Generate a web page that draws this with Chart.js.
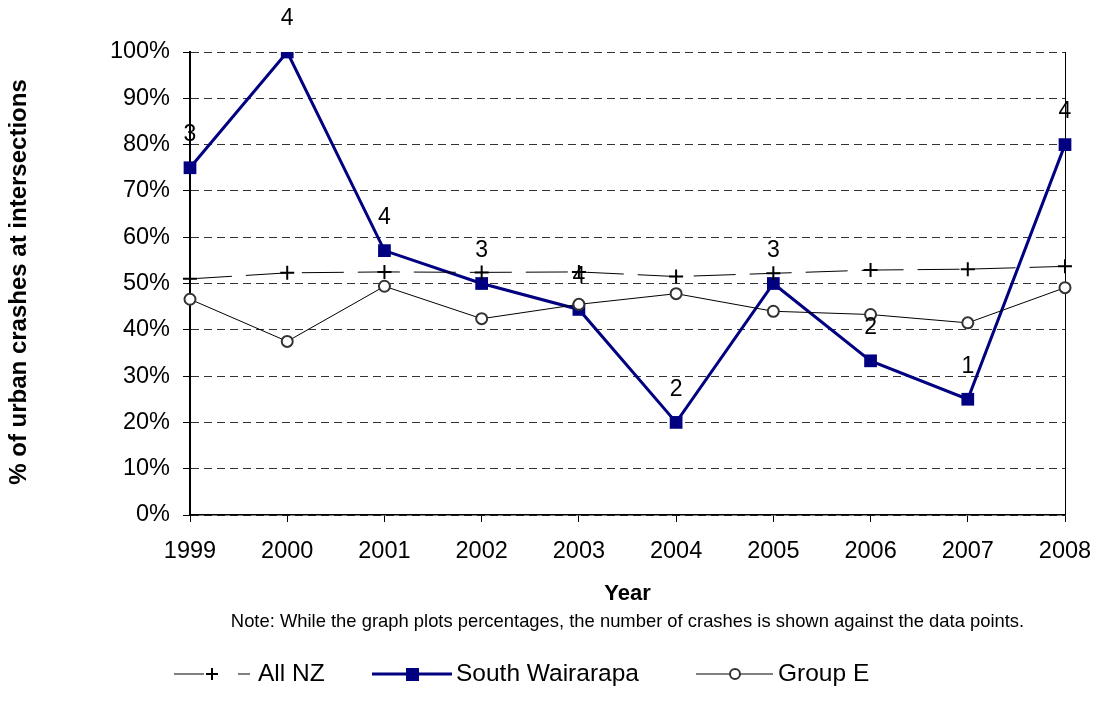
<!DOCTYPE html>
<html>
<head>
<meta charset="utf-8">
<script src="https://cdn.jsdelivr.net/npm/chart.js@4/dist/chart.umd.min.js"></script>
<style>
  html, body { margin: 0; padding: 0; background: #fff; }
  #wrap { width: 1095px; height: 709px; }
</style>
</head>
<body>
<div id="wrap"><canvas id="chart" width="1095" height="709"></canvas></div>
<script>
// data
const years = ['1999', '2000', '2001', '2002', '2003', '2004', '2005', '2006', '2007', '2008'];
const allNz = [51.0, 52.3, 52.5, 52.4, 52.5, 51.5, 52.2, 52.9, 53.1, 53.7];
const southWairarapa = [75, 100, 57.1, 50, 44.4, 20, 50, 33.3, 25, 80];
const groupE = [46.6, 37.5, 49.4, 42.4, 45.5, 47.8, 44.0, 43.3, 41.5, 49.1];
const crashCounts = [3, 4, 4, 3, 4, 2, 3, 2, 1, 4];

const yTitle = '% of urban crashes at intersections';
const xTitle = 'Year';
const note = 'Note: While the graph plots percentages, the number of crashes is shown against the data points.';

const FONT = '"Liberation Sans", Arial, sans-serif';
const NAVY = '#000080';

// right-hand frame line of the plot area
const frame = {
  id: 'frame',
  beforeDatasetsDraw(chart) {
    const ctx = chart.ctx;
    const a = chart.chartArea;
    ctx.save();
    ctx.strokeStyle = '#000';
    ctx.lineWidth = 1;
    ctx.beginPath();
    ctx.moveTo(a.right + 0.5, a.top);
    ctx.lineTo(a.right + 0.5, a.bottom);
    ctx.stroke();
    ctx.restore();
  }
};

// numbers of crashes above the South Wairarapa points
const countLabels = {
  id: 'countLabels',
  afterDatasetsDraw(chart) {
    const ctx = chart.ctx;
    const meta = chart.getDatasetMeta(1);
    ctx.save();
    ctx.font = '23px ' + FONT;
    ctx.fillStyle = '#000';
    ctx.textAlign = 'center';
    ctx.textBaseline = 'middle';
    meta.data.forEach((pt, i) => {
      ctx.fillText(String(crashCounts[i]), pt.x, pt.y - 33);
    });
    ctx.restore();
  }
};

// axis titles, note and the legend at the bottom
const extras = {
  id: 'extras',
  afterDraw(chart) {
    const ctx = chart.ctx;
    const area = chart.chartArea;
    ctx.save();
    ctx.fillStyle = '#000';
    ctx.textAlign = 'center';
    ctx.textBaseline = 'middle';

    ctx.save();
    ctx.translate(19, 282);
    ctx.rotate(-Math.PI / 2);
    ctx.font = 'bold 24px ' + FONT;
    ctx.fillText(yTitle, 0, 0);
    ctx.restore();

    const cx = (area.left + area.right) / 2;
    ctx.font = 'bold 22px ' + FONT;
    ctx.fillText(xTitle, cx, 594);
    ctx.font = '18.4px ' + FONT;
    ctx.fillText(note, cx, 622);

    // legend
    const ly = 674;
    ctx.textAlign = 'left';
    ctx.font = '24.5px ' + FONT;

    // All NZ
    ctx.strokeStyle = '#000';
    ctx.lineWidth = 1;
    ctx.beginPath();
    ctx.moveTo(174, ly); ctx.lineTo(204, ly);
    ctx.moveTo(238, ly); ctx.lineTo(250, ly);
    ctx.stroke();
    ctx.lineWidth = 2;
    ctx.beginPath();
    ctx.moveTo(206, ly); ctx.lineTo(218, ly);
    ctx.moveTo(212, ly - 6); ctx.lineTo(212, ly + 6);
    ctx.stroke();
    ctx.fillText('All NZ', 258, ly);

    // South Wairarapa
    ctx.strokeStyle = NAVY;
    ctx.lineWidth = 3;
    ctx.beginPath();
    ctx.moveTo(372, ly); ctx.lineTo(452, ly);
    ctx.stroke();
    ctx.fillStyle = NAVY;
    ctx.fillRect(406, ly - 6, 13, 13);
    ctx.fillStyle = '#000';
    ctx.fillText('South Wairarapa', 456, ly);

    // Group E
    ctx.strokeStyle = '#000';
    ctx.lineWidth = 1;
    ctx.beginPath();
    ctx.moveTo(696, ly); ctx.lineTo(773, ly);
    ctx.stroke();
    ctx.beginPath();
    ctx.arc(735, ly, 5, 0, Math.PI * 2);
    ctx.fillStyle = '#fff';
    ctx.fill();
    ctx.strokeStyle = '#333';
    ctx.lineWidth = 2;
    ctx.stroke();
    ctx.fillStyle = '#000';
    ctx.fillText('Group E', 778, ly);

    ctx.restore();
  }
};

new Chart(document.getElementById('chart'), {
  type: 'line',
  data: {
    labels: years,
    datasets: [
      {
        label: 'All NZ',
        data: allNz,
        borderColor: '#000',
        borderWidth: 1,
        borderDash: [42, 14],
        pointStyle: 'cross',
        pointRadius: 7,
        pointBorderWidth: 2,
        pointBorderColor: '#000',
        tension: 0,
        order: 0
      },
      {
        label: 'South Wairarapa',
        data: southWairarapa,
        borderColor: NAVY,
        borderWidth: 3,
        pointStyle: 'rect',
        pointRadius: 9,
        pointBorderWidth: 0,
        pointBackgroundColor: NAVY,
        tension: 0,
        order: 2
      },
      {
        label: 'Group E',
        data: groupE,
        borderColor: '#000',
        borderWidth: 1,
        pointStyle: 'circle',
        pointRadius: 5.5,
        pointBorderWidth: 2,
        pointBorderColor: '#333',
        pointBackgroundColor: '#fff',
        tension: 0,
        order: 1
      }
    ]
  },
  options: {
    responsive: false,
    animation: false,
    layout: { padding: { left: 0, right: 30, top: 52, bottom: 0 } },
    plugins: {
      legend: { display: false },
      tooltip: { enabled: false }
    },
    scales: {
      x: {
        type: 'category',
        offset: false,
        grid: { drawOnChartArea: false, drawTicks: true, tickLength: 7, color: '#000' },
        border: { display: true, color: '#000', width: 1.5 },
        ticks: { color: '#000', font: { family: FONT, size: 23.5 }, padding: 15, maxRotation: 0, autoSkip: false },
        afterFit: function(scale) {
          scale.height = 194;
          scale.paddingLeft = 0;
          scale.paddingRight = 0;
        }
      },
      y: {
        min: 0,
        max: 100,
        grid: { color: '#333', lineWidth: 1, tickLength: 7, tickColor: '#000', tickBorderDash: [] },
        border: { display: true, color: '#000', width: 2, dash: [8, 5] },
        ticks: {
          stepSize: 10,
          color: '#000',
          font: { family: FONT, size: 23.5 },
          padding: 13,
          callback: function(value) { return value + '%'; }
        },
        afterFit: function(scale) {
          scale.width = 190;
          scale.paddingTop = 0;
          scale.paddingBottom = 0;
        }
      }
    }
  },
  plugins: [frame, countLabels, extras]
});
</script>
</body>
</html>
